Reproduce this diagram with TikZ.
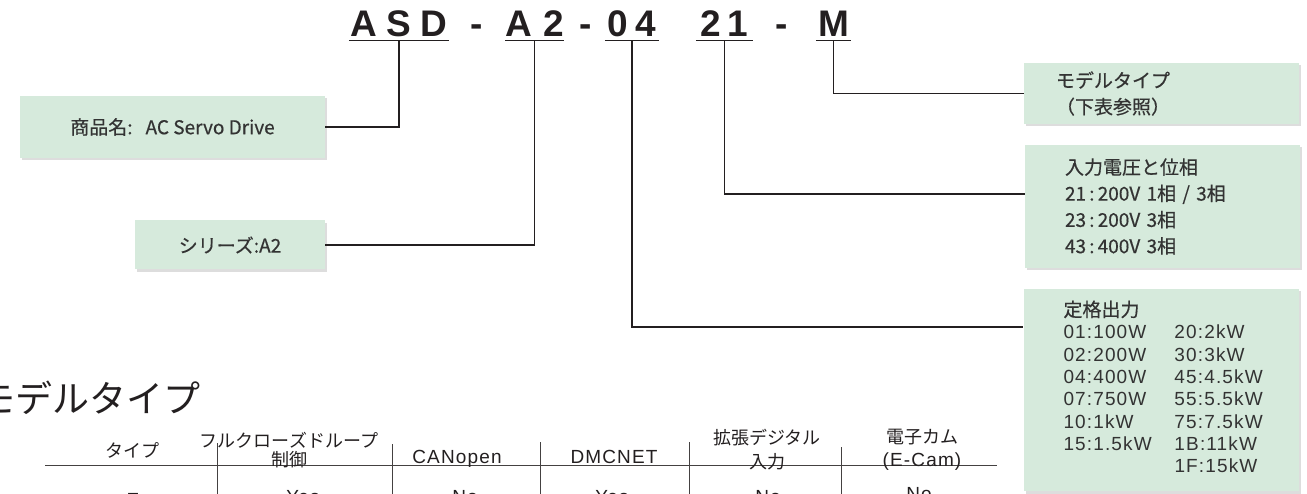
\documentclass[tikz,border=0pt]{standalone}
\usepackage{fontspec}
\setmainfont{Liberation Sans}
\newfontfamily\jpfont{Noto Sans CJK JP}
\newfontfamily\jpbox{Noto Sans CJK JP}[FakeBold=0.5]
\newfontfamily\widefont{Liberation Sans}[LetterSpace=6]
\usetikzlibrary{positioning,shadows}
\definecolor{ink}{HTML}{231F20}
\definecolor{boxink}{HTML}{333333}
\definecolor{boxgreen}{HTML}{D6EADC}
\tikzset{%
  code/.style={font=\fontsize{37}{40}\selectfont\bfseries,text=ink,inner xsep=0pt,inner ysep=3pt,text depth=0pt,anchor=base},
  hy/.style={font=\fontsize{37}{40}\selectfont\bfseries,text=ink,inner sep=0pt,anchor=base},
  link/.style={draw=ink,line width=1.3pt},
  infobox/.style={fill=boxgreen,draw=none,text=boxink,font=\jpbox\fontsize{19}{26.3}\selectfont,
    drop shadow={shadow xshift=2pt,shadow yshift=-2.5pt,opacity=.22,fill=black!60}},
  leftbox/.style={infobox,align=left,minimum width=275pt},
  rule/.style={draw=ink!85,line width=.9pt},
  head/.style={font=\jpfont\fontsize{18}{18.5}\selectfont,text=ink,align=center,inner sep=0pt},
  cell/.style={font=\widefont\fontsize{19}{22}\selectfont,text=ink,inner sep=0pt,anchor=base}
}
\begin{document}
\begin{tikzpicture}[x=1pt,y=-1pt]
  \useasboundingbox (0,0) rectangle (1307,494);
  \clip (0,0) rectangle (1307,494);

  % model code
  \node[code,minimum width=100pt] (nm) at (399,37) {A\hspace{9pt}S\hspace{9pt}D};
  \node[hy] (h1) at (477,37) {-};
  \node[code,minimum width=55pt] (sr) at (534.5,37) {A\hspace{11pt}2};
  \node[hy] (h2) at (586,37) {-};
  \node[code,minimum width=54pt] (pw) at (632,37) {0\hspace{8pt}4};
  \node[code,minimum width=57pt] (vt) at (724.5,37) {2\hspace{6pt}1};
  \node[hy] (h3) at (782,37) {-};
  \node[code,minimum width=35pt] (md) at (833.5,37) {M};
  \foreach \n in {nm,sr,pw,vt,md}
    \draw[link] (\n.south west) -- (\n.south east);

  % boxes
  \node[infobox,minimum width=305pt,minimum height=62pt] (nmbox) at (172.5,127)
    {商品名:\hspace{13pt}AC Servo Drive};
  \node[infobox,minimum width=190pt,minimum height=49pt] (srbox) at (230,245)
    {シリーズ:A2};
  \node[leftbox,minimum height=61pt,inner xsep=32pt,text width=211pt] (mdbox) at (1161.5,93.5)
    {モデルタイプ\\（下表参照）};
  \node[leftbox,minimum height=123pt,inner xsep=40pt,text width=195pt] (vtbox) at (1162.5,206.5)
    {入力電圧と位相\\21\,:\,200V 1相 / 3相\\23\,:\,200V 3相\\43\,:\,400V 3相};
  \node[leftbox,minimum height=202pt,inner xsep=40pt,text width=195pt,
        font=\widefont\fontsize{19}{22.3}\selectfont] (pwbox) at (1161,390)
    {\begin{tabular}{@{}p{111pt}@{}l@{}}
      \multicolumn{2}{@{}l@{}}{\jpbox\fontsize{19}{22.3}\selectfont 定格出力}\\
      01:100W & 20:2kW\\
      02:200W & 30:3kW\\
      04:400W & 45:4.5kW\\
      07:750W & 55:5.5kW\\
      10:1kW & 75:7.5kW\\
      15:1.5kW & 1B:11kW\\
      & 1F:15kW
    \end{tabular}};

  % connectors
  \draw[link] (nm.south) |- (nmbox.east);
  \draw[link] (sr.south) |- (srbox.east);
  \draw[link] (md.south) |- (mdbox.west);
  \draw[link] (vt.south) |- ([yshift=12.5pt]vtbox.west);
  \draw[link] (pw.south) |- ([yshift=63pt]pwbox.west);

  % table
  \node[font=\jpfont\fontsize{37}{42}\selectfont,text=ink,anchor=west,inner sep=0pt] (title) at (-22,398) {モデルタイプ};
  \draw[rule] (45,465) -- (997,465);
  \foreach \x/\t in {217/443,392/444,540/442,689/442,841/447}
    \draw[rule] (\x,\t) -- (\x,494);
  \node[head] (c1) at (132,450) {タイプ};
  \node[head] (c2) at (289,450) {フルクローズドループ\\制御};
  \node[cell] (c3) at (457,463) {CANopen};
  \node[cell] (c4) at (614,463) {DMCNET};
  \node[head,font=\jpfont\fontsize{18}{24}\selectfont] (c5) at (767,450) {拡張デジタル\\入力};
  \node[head,font=\jpfont\fontsize{18}{23}\selectfont] (c6) at (922,450) {電子カム\\{\widefont\fontsize{19}{23}\selectfont (E-Cam)}};
  \node[cell] (d1) at (133,506) {E};
  \node[cell] (d2) at (303,503) {Yes};
  \node[cell] (d3) at (465,503) {No};
  \node[cell] (d4) at (612,503) {Yes};
  \node[cell] (d5) at (768,503) {No};
  \node[cell] (d6) at (919,500) {No};
\end{tikzpicture}
\end{document}
